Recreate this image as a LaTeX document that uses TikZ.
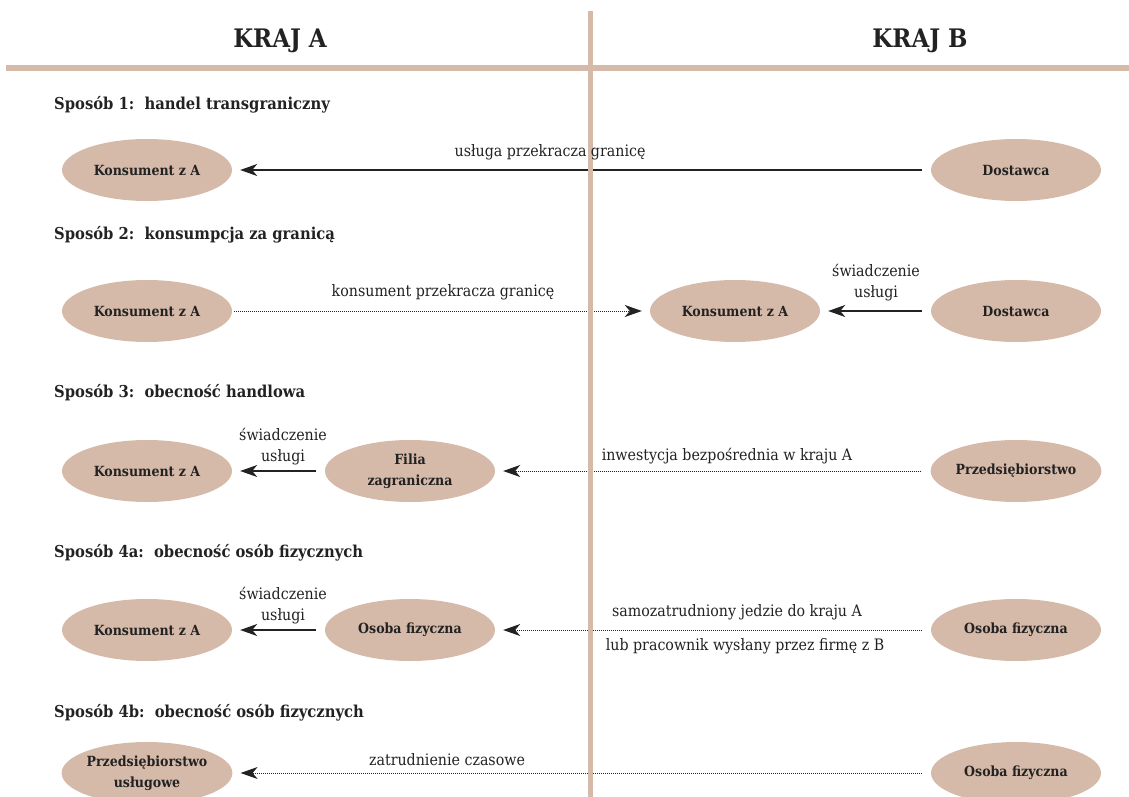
\documentclass[tikz,border=0pt]{standalone}
\usepackage{fontspec}
\setmainfont{DejaVu Serif Condensed}
\usetikzlibrary{arrows.meta,shapes.geometric}
\definecolor{tan}{HTML}{D6BAA9}
\definecolor{ink}{HTML}{222222}
\tikzset{
  oval/.style={ellipse, fill=tan, minimum width=170pt, minimum height=62pt, inner sep=0pt, align=center, font=\fontsize{14}{21}\selectfont\bfseries, text=ink},
  lbl/.style={font=\fontsize{15.8}{21}\selectfont, text=ink, align=center, inner sep=0pt},
  head/.style={font=\fontsize{16.4}{19}\selectfont\bfseries, text=ink, anchor=west, inner sep=0pt},
  country/.style={font=\fontsize{25.5}{27}\selectfont\bfseries, text=ink, inner sep=0pt},
  tipst/.style={-{Stealth[length=17pt,width=12pt,inset=5pt]}},
  solidarr/.style={tipst, draw=ink, line width=1.2pt, shorten >=8pt, shorten <=9pt},
  dotarr/.style={tipst, draw=ink, line width=1pt, dash pattern=on 1pt off 1pt, shorten >=8pt, shorten <=9pt},
  border/.style={draw=tan, line width=5.5pt},
}
\begin{document}
\begin{tikzpicture}[x=1pt,y=-1pt]
\useasboundingbox (0,0) rectangle (1129,797);
\begin{scope}
\clip (0,0) rectangle (1129,797);

\node[country] (ka) at (280,41) {KRAJ A};
\node[country] (kb) at (920,41) {KRAJ B};

% headings
\node[head] (h1) at (54,105) {Sposób 1:\ \ handel transgraniczny};
\node[head] (h2) at (54,235) {Sposób 2:\ \ konsumpcja za granicą};
\node[head] (h3) at (54,393) {Sposób 3:\ \ obecność handlowa};
\node[head] (h4) at (54,553) {Sposób 4a:\ \ obecność osób fizycznych};
\node[head] (h5) at (54,713) {Sposób 4b:\ \ obecność osób fizycznych};

% nodes
\node[oval] (k1) at (147,170) {Konsument z A};
\node[oval] (d1) at (1016,170) {Dostawca};
\node[oval] (k2) at (147,311) {Konsument z A};
\node[oval] (k2b) at (735,311) {Konsument z A};
\node[oval] (d2) at (1016,311) {Dostawca};
\node[oval] (k3) at (147,471) {Konsument z A};
\node[oval] (f3) at (410,471) {Filia\\zagraniczna};
\node[oval] (p3) at (1016,471) {Przedsiębiorstwo};
\node[oval] (k4) at (147,630) {Konsument z A};
\node[oval] (o4) at (410,630) {Osoba fizyczna};
\node[oval] (o4b) at (1016,630) {Osoba fizyczna};
\node[oval] (p5) at (147,773) {Przedsiębiorstwo\\usługowe};
\node[oval] (o5) at (1016,773) {Osoba fizyczna};

% connectors
\draw[solidarr] (d1) -- (k1);
\draw[dotarr, shorten <=2pt] (k2) -- (k2b);
\draw[solidarr] (d2) -- (k2b);
\draw[solidarr] (f3) -- (k3);
\draw[dotarr] (p3) -- (f3);
\draw[solidarr] (o4) -- (k4);
\draw[dotarr] (o4b) -- (o4);
\draw[dotarr] (o5) -- (p5);

% borders
\coordinate (vt) at (590.5,11);
\coordinate (vb) at (590.5,800);
\coordinate (hl) at (6,68);
\coordinate (hr) at (1129,68);
\draw[border] (hl) -- (hr);
\draw[border] (vt) -- (vb);

% labels
\node[lbl] (l1) at (550,152) {usługa przekracza granicę};
\node[lbl] (l2) at (443,292) {konsument przekracza granicę};
\node[lbl] (l2b) at (876,283) {świadczenie\\usługi};
\node[lbl] (l3) at (283,447) {świadczenie\\usługi};
\node[lbl] (l3b) at (727,456) {inwestycja bezpośrednia w kraju A};
\node[lbl] (l4) at (283,606) {świadczenie\\usługi};
\node[lbl] (l4b) at (737,612) {samozatrudniony jedzie do kraju A};
\node[lbl] (l4c) at (745,646) {lub pracownik wysłany przez firmę z B};
\node[lbl] (l5) at (447,760) {zatrudnienie czasowe};
\end{scope}
\end{tikzpicture}
\end{document}
